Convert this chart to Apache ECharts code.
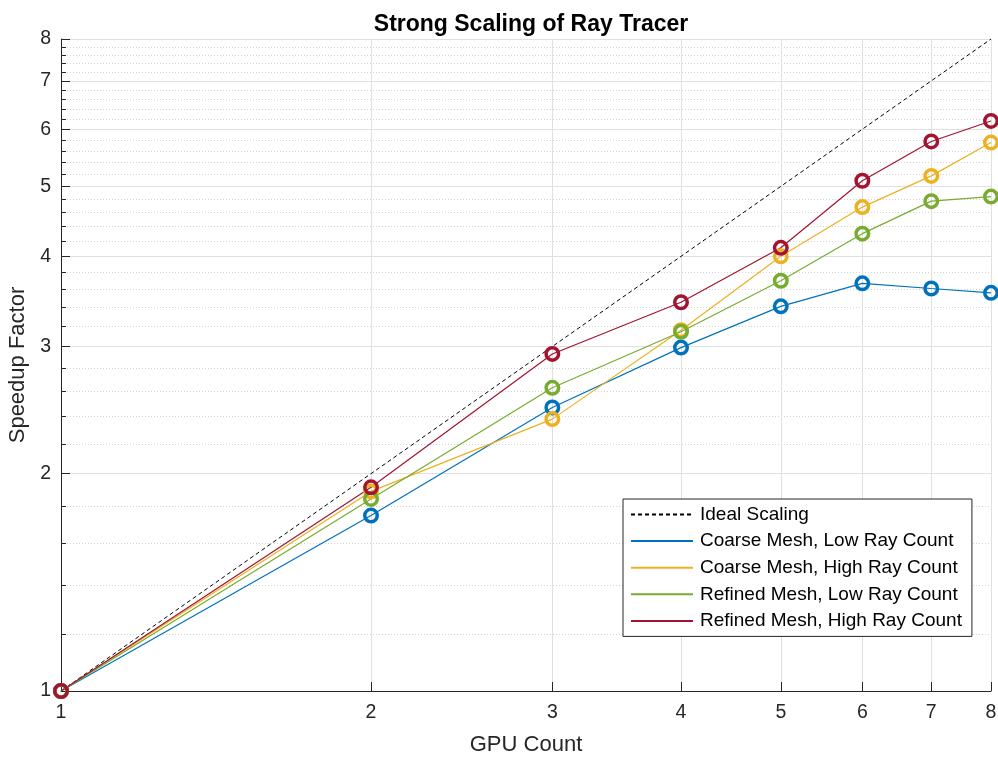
<!DOCTYPE html>
<html>
<head>
<meta charset="utf-8">
<script src="https://cdn.jsdelivr.net/npm/echarts@6/dist/echarts.min.js"></script>
<style>
html,body{margin:0;padding:0;background:#fff;}
#chart{width:998px;height:757px;}
</style>
</head>
<body>
<div id="chart"></div>
<script>
const gpuCounts = [1, 2, 3, 4, 5, 6, 7, 8];
const idealScaling = [1, 2, 3, 4, 5, 6, 7, 8];
const coarseLow = [1, 1.75, 2.47, 2.99, 3.41, 3.67, 3.61, 3.56];
const coarseHigh = [1, 1.89, 2.38, 3.16, 4.00, 4.68, 5.17, 5.75];
const refinedLow = [1, 1.845, 2.63, 3.145, 3.70, 4.30, 4.77, 4.84];
const refinedHigh = [1, 1.915, 2.93, 3.455, 4.11, 5.09, 5.77, 6.16];
const seriesNames = ['Ideal Scaling', 'Coarse Mesh, Low Ray Count', 'Coarse Mesh, High Ray Count', 'Refined Mesh, Low Ray Count', 'Refined Mesh, High Ray Count'];
const xTicks = [1, 2, 3, 4, 5, 6, 7, 8];
const yTicks = [1, 2, 3, 4, 5, 6, 7, 8];
const yMinorTicks = [1.2,1.4,1.6,1.8,2.2,2.4,2.6,2.8,3.2,3.4,3.6,3.8,4.2,4.4,4.6,4.8,5.2,5.4,5.6,5.8,6.2,6.4,6.6,6.8,7.2,7.4,7.6,7.8];

const colors = ['#000000', '#0072BD', '#EDB120', '#77AC30', '#A2142F'];
const FONT = '"Liberation Sans", Arial, Helvetica, sans-serif';
const AX = '#262626';

function pairs(ys) { return gpuCounts.map((x, i) => [x, ys[i]]); }
const allData = [idealScaling, coarseLow, coarseHigh, refinedLow, refinedHigh];

const series = [];
allData.forEach((d, i) => {
  series.push({
    name: seriesNames[i], type: 'line', data: pairs(d), symbol: 'none',
    xAxisIndex: 0, yAxisIndex: 0,
    lineStyle: i === 0 ? { color: colors[i], width: 1, type: [4, 3] } : { color: colors[i], width: 1.2 },
    itemStyle: { color: colors[i] },
    z: 3, silent: true, animation: false
  });
});
allData.forEach((d, i) => {
  if (i === 0) return;
  series.push({
    name: seriesNames[i] + ' markers', type: 'scatter', data: pairs(d),
    xAxisIndex: 0, yAxisIndex: 0,
    symbol: 'circle', symbolSize: 12.5,
    itemStyle: { color: 'rgba(0,0,0,0)', borderColor: colors[i], borderWidth: 3.5, opacity: 1 },
    z: 4 + i, silent: true, animation: false
  });
});

const chart = echarts.init(document.getElementById('chart'), null, { renderer: 'canvas' });
chart.setOption({
  animation: false,
  backgroundColor: '#fff',
  title: {
    text: 'Strong Scaling of Ray Tracer', left: 526, top: 8, textAlign: 'center',
    textStyle: { fontFamily: FONT, fontSize: 23, fontWeight: 'bold', color: '#000' }
  },
  grid: { left: 61, right: 7, top: 39, bottom: 66, outerBoundsMode: 'none', containLabel: false },
  legend: {
    data: seriesNames,
    orient: 'vertical', left: 623, top: 499,
    itemWidth: 62, itemHeight: 12, itemGap: 7.6,
    padding: [6, 10, 6, 7],
    backgroundColor: '#fff', borderColor: '#262626', borderWidth: 1,
    itemStyle: { opacity: 0 },
    textStyle: { fontFamily: FONT, fontSize: 19, color: '#000', padding: [0, 0, 0, 2] },
    selectedMode: false
  },
  xAxis: [{
    type: 'log', logBase: 2, min: 1, max: 8,
    name: 'GPU Count', nameLocation: 'middle', nameGap: 43,
    nameTextStyle: { fontFamily: FONT, fontSize: 22, color: AX },
    axisLine: { lineStyle: { color: AX, width: 1 } },
    axisTick: { inside: true, length: 9, customValues: xTicks, lineStyle: { color: AX } },
    axisLabel: { customValues: xTicks, fontFamily: FONT, fontSize: 19.5, color: AX, margin: 12, formatter: v => String(Math.round(v)) },
    splitLine: { show: true, lineStyle: { color: '#e0e0e0', width: 1 } },
    minorTick: { show: false }, minorSplitLine: { show: false }
  }],
  yAxis: [{
    type: 'log', logBase: 2, min: 1, max: 8,
    name: 'Speedup Factor', nameLocation: 'middle', nameGap: 31, nameRotate: 90,
    nameTextStyle: { fontFamily: FONT, fontSize: 22, color: AX },
    axisLine: { show: true, lineStyle: { color: AX, width: 1 } },
    axisTick: { show: true, inside: true, length: 9, customValues: yTicks, lineStyle: { color: AX } },
    axisLabel: { customValues: yTicks, fontFamily: FONT, fontSize: 19.5, color: AX, margin: 10, formatter: v => String(Math.round(v)) },
    splitLine: { show: true, lineStyle: { color: '#e0e0e0', width: 1 } },
    minorTick: { show: false }, minorSplitLine: { show: false }
  }, {
    type: 'log', logBase: 2, min: 1, max: 8, position: 'left',
    axisLine: { show: false },
    axisTick: { show: true, inside: true, length: 5, customValues: yMinorTicks, lineStyle: { color: AX } },
    axisLabel: { show: false, customValues: yMinorTicks },
    splitLine: { show: true, lineStyle: { color: '#d4d4d4', width: 1, type: [1, 2] } }
  }],
  series: series
});
</script>
</body>
</html>
